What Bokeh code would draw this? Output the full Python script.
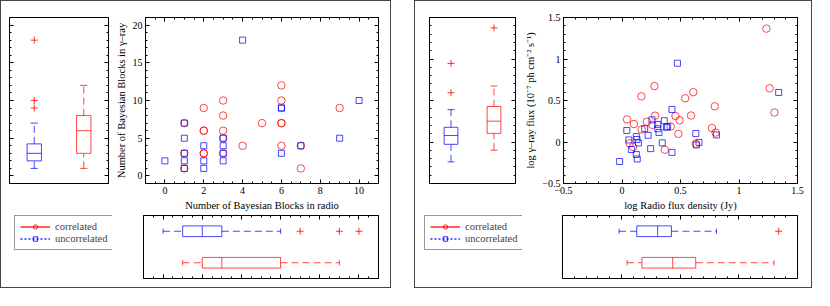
import numpy as np
from bokeh.plotting import figure
from bokeh.layouts import row, column
from bokeh.models import (Range1d, LinearAxis, FixedTicker, Spacer, ColumnDataSource,
                          Legend, LegendItem)
from bokeh.embed import file_html
from bokeh.resources import INLINE

# ---------------- data ----------------
# Panel 1: number of Bayesian blocks (radio vs gamma-ray)
bb_cor_radio = [1, 1, 1, 2, 2, 2, 2, 2, 3, 3, 3, 3, 3, 4, 5, 6, 6, 6, 6, 6, 7, 7, 9]
bb_cor_gamma = [1, 3, 7, 3, 3, 6, 6, 9, 3, 5, 6, 8, 10, 4, 7, 4, 7, 7, 10, 12, 1, 4, 9]
bb_unc_radio = [0, 1, 1, 1, 1, 1, 2, 2, 2, 3, 3, 3, 3, 4, 6, 6, 6, 7, 9, 10]
bb_unc_gamma = [2, 1, 2, 3, 5, 7, 1, 2, 4, 2, 3, 4, 5, 18, 3, 9, 9, 4, 5, 10]

# box-plot summaries: [lower whisker, q1, median, q3, upper whisker]
bb_gamma_box_unc = [1, 2, 3, 4.25, 7]
bb_gamma_out_unc = [9, 10, 18]
bb_gamma_box_cor = [1, 3, 6, 8, 12]
bb_gamma_out_cor = []
bb_radio_box_unc = [0, 1, 2, 3, 6]
bb_radio_out_unc = [7, 9, 10]
bb_radio_box_cor = [1, 2, 3, 6, 9]
bb_radio_out_cor = []

# Panel 2: log radio flux density vs log gamma-ray flux
fl_cor_radio = [1.234, 1.262, 1.303, 0.277, 0.166, 0.609, 0.540, 0.793, 0.590, 0.043,
                0.102, 0.283, 0.457, 0.492, 0.212, 0.259, 0.168, 0.416, 0.482, 0.769,
                0.800, 0.065, 0.094, 0.366, 0.630]
fl_cor_gamma = [1.366, 0.647, 0.355, 0.674, 0.550, 0.600, 0.527, 0.430, 0.319, 0.272,
                0.216, 0.317, 0.313, 0.262, 0.244, 0.206, 0.151, 0.187, 0.098, 0.168,
                0.113, -0.015, -0.060, -0.093, -0.022]
fl_unc_radio = [0.474, 1.339, 0.427, 0.256, 0.361, 0.306, 0.194, 0.306, 0.380, 0.390,
                0.316, 0.041, 0.223, 0.122, 0.128, 0.058, 0.140, 0.344, 0.631, 0.807,
                0.658, 0.636, 0.080, 0.245, 0.427, 0.122, 0.130, -0.020]
fl_unc_gamma = [0.949, 0.597, 0.392, 0.267, 0.256, 0.212, 0.160, 0.160, 0.178, 0.185,
                0.115, 0.139, 0.081, 0.065, 0.030, 0.025, -0.012, -0.010, 0.103, 0.085,
                -0.005, -0.035, -0.090, -0.080, -0.125, -0.150, -0.205, -0.235]

fl_gamma_box_unc = [-0.24, -0.028, 0.078, 0.177, 0.39]
fl_gamma_out_unc = [0.594, 0.947]
fl_gamma_box_cor = [-0.099, 0.104, 0.251, 0.428, 0.675]
fl_gamma_out_cor = [1.375]
fl_radio_box_unc = [-0.019, 0.132, 0.31, 0.427, 0.81]
fl_radio_out_unc = [1.34]
fl_radio_box_cor = [0.05, 0.176, 0.438, 0.634, 1.30]
fl_radio_out_cor = []

group_labels = ["correlated", "uncorrelated"]

bb_xticks = [0, 2, 4, 6, 8, 10]
bb_yticks = [0, 5, 10, 15, 20]
fl_ticks = [-0.5, 0, 0.5, 1, 1.5]
fl_tick_labels = ["\u22120.5", "0", "0.5", "1", "1.5"]

# ---------------- styling ----------------
SX, SY = 0.977, 0.94
def sx(v): return int(round(v * SX))
def sy(v): return int(round(v * SY))

FONT = "Liberation Serif"
RED, BLUE = "red", "blue"
ALPHA = 0.72
DASH = "7 4"


def make_fig(w, h, left, right, top, bottom, xr, yr):
    p = figure(width=sx(w), height=sy(h), x_range=Range1d(*xr), y_range=Range1d(*yr),
               output_backend="svg", toolbar_location=None,
               x_axis_location=None, y_axis_location=None,
               min_border_left=sx(left), min_border_right=sx(right),
               min_border_top=sy(top), min_border_bottom=sy(bottom))
    p.grid.visible = False
    p.outline_line_color = "black"
    p.outline_line_width = 1
    p.background_fill_color = "white"
    p.border_fill_color = "white"
    return p


def add_axis(p, place, ticks, minor, labels=False, title=None, overrides=None):
    ax = LinearAxis(ticker=FixedTicker(ticks=ticks, minor_ticks=minor))
    ax.axis_line_color = "black"
    ax.major_tick_in, ax.major_tick_out = 4, 0
    ax.minor_tick_in, ax.minor_tick_out = 2, 0
    ax.major_tick_line_color = "black"
    ax.minor_tick_line_color = "black"
    if labels:
        ax.major_label_text_font = FONT
        ax.major_label_text_font_size = "10px"
        ax.major_label_text_color = "black"
        ax.major_label_standoff = 3
        if overrides:
            ax.major_label_overrides = overrides
    else:
        ax.major_label_text_font_size = "0px"
        ax.major_label_text_alpha = 0
        ax.major_label_standoff = 0
    if title:
        ax.axis_label = title
        ax.axis_label_text_font = FONT
        ax.axis_label_text_font_style = "normal"
        ax.axis_label_text_font_size = "10.5px"
        ax.axis_label_text_color = "black"
        ax.axis_label_standoff = 3
    p.add_layout(ax, place)
    return ax


def draw_boxes(p, orient, pos, stats, outs, width, colors):
    half, cap = width / 2.0, width / 4.0
    src = ColumnDataSource(dict(
        pos=pos,
        lw=[s[0] for s in stats], q1=[s[1] for s in stats], med=[s[2] for s in stats],
        q3=[s[3] for s in stats], uw=[s[4] for s in stats],
        lo=[c - half for c in pos], hi=[c + half for c in pos],
        clo=[c - cap for c in pos], chi=[c + cap for c in pos],
        color=colors))
    kw = dict(source=src, line_color="color", line_width=1, line_alpha=ALPHA)
    opos, oval = [], []
    for c, o in zip(pos, outs):
        opos += [c] * len(o)
        oval += list(o)
    osrc = ColumnDataSource(dict(pos=opos, val=oval))
    if orient == "v":
        p.segment(x0="pos", y0="q3", x1="pos", y1="uw", line_dash=DASH, **kw)
        p.segment(x0="pos", y0="lw", x1="pos", y1="q1", line_dash=DASH, **kw)
        p.segment(x0="clo", y0="uw", x1="chi", y1="uw", **kw)
        p.segment(x0="clo", y0="lw", x1="chi", y1="lw", **kw)
        p.vbar(x="pos", width=width, bottom="q1", top="q3", fill_color=None, **kw)
        p.segment(x0="lo", y0="med", x1="hi", y1="med", **kw)
        p.scatter(x="pos", y="val", source=osrc, marker="cross", size=7,
                  line_color=RED, line_alpha=0.8, line_width=1)
    else:
        p.segment(x0="q3", y0="pos", x1="uw", y1="pos", line_dash=DASH, **kw)
        p.segment(x0="lw", y0="pos", x1="q1", y1="pos", line_dash=DASH, **kw)
        p.segment(x0="uw", y0="clo", x1="uw", y1="chi", **kw)
        p.segment(x0="lw", y0="clo", x1="lw", y1="chi", **kw)
        p.hbar(y="pos", height=width, left="q1", right="q3", fill_color=None, **kw)
        p.segment(x0="med", y0="lo", x1="med", y1="hi", **kw)
        p.scatter(x="val", y="pos", source=osrc, marker="cross", size=7,
                  line_color=RED, line_alpha=0.8, line_width=1)


def draw_scatter(p, cx, cy, ux, uy):
    p.scatter(cx, cy, marker="circle", size=7.5, fill_color=None,
              line_color=RED, line_alpha=ALPHA, line_width=1)
    p.scatter(ux, uy, marker="square", size=6, fill_color=None,
              line_color=BLUE, line_alpha=ALPHA, line_width=1)


def legend_fig(w, h, left):
    p = figure(width=sx(w), height=sy(h), x_range=Range1d(0, 1), y_range=Range1d(0, 1),
               output_backend="svg", toolbar_location=None,
               x_axis_location=None, y_axis_location=None,
               min_border_left=sx(left), min_border_right=0,
               min_border_top=0, min_border_bottom=0)
    p.grid.visible = False
    p.outline_line_color = None
    p.border_fill_color = "white"
    # legend-only renderers: a single undefined (NaN) point so nothing is plotted
    dummy = ColumnDataSource(dict(x=[float("nan")], y=[float("nan")]))
    l1 = p.line("x", "y", source=dummy, line_color=RED, line_width=1.5, line_alpha=0.85)
    m1 = p.scatter("x", "y", source=dummy, marker="circle", size=7.5, fill_color=None,
                   line_color=RED, line_alpha=0.85, line_width=1)
    l2 = p.line("x", "y", source=dummy, line_color=BLUE, line_width=1.5, line_dash="2 2",
                line_alpha=0.85)
    m2 = p.scatter("x", "y", source=dummy, marker="square", size=6, fill_color=None,
                   line_color=BLUE, line_alpha=0.85, line_width=1)
    leg = Legend(items=[LegendItem(label=group_labels[0], renderers=[l1, m1]),
                        LegendItem(label=group_labels[1], renderers=[l2, m2])],
                 location="top_left", margin=0, padding=5, spacing=1,
                 glyph_width=30, glyph_height=11, label_height=11, label_standoff=5,
                 label_text_font=FONT, label_text_font_size="10.5px",
                 border_line_color="#333333", border_line_width=1.5,
                 background_fill_color="white", background_fill_alpha=1)
    p.add_layout(leg)
    return p


def panel(vb_w, vb_l, vb_r, sc_w, sc_l, sc_r, yr, xr, xt, xminor, yt, yminor,
          xlabel, ylabel, xover, yover, cx, cy, ux, uy,
          ybox, yout, xbox, xout, vwidth, hwidth, leg_left):
    TOP, FH, BOT = 17, 181, 28
    H1 = TOP + FH + BOT
    H2 = 79
    # vertical box plot (gamma-ray)
    vb = make_fig(vb_w, H1, vb_l, vb_r, TOP, BOT, (0.5, 2.5), yr)
    add_axis(vb, "left", yt, yminor)
    add_axis(vb, "right", yt, yminor)
    draw_boxes(vb, "v", [1, 2], [ybox[1], ybox[0]], [yout[1], yout[0]], vwidth, [BLUE, RED])
    # scatter
    sc = make_fig(sc_w, H1, sc_l, sc_r, TOP, BOT, xr, yr)
    add_axis(sc, "below", xt, xminor, labels=True, title=xlabel, overrides=xover)
    add_axis(sc, "left", yt, yminor, labels=True, title=ylabel, overrides=yover)
    add_axis(sc, "above", xt, xminor)
    add_axis(sc, "right", yt, yminor)
    draw_scatter(sc, cx, cy, ux, uy)
    # legend
    lg = legend_fig(vb_w, H2, leg_left)
    # horizontal box plot (radio)
    hb = make_fig(sc_w, H2, sc_l, sc_r, 2, 10, xr, (0.5, 2.5))
    add_axis(hb, "below", xt, xminor)
    add_axis(hb, "above", xt, xminor)
    draw_boxes(hb, "h", [2, 1], [xbox[1], xbox[0]], [xout[1], xout[0]], hwidth, [BLUE, RED])
    return column(row(vb, sc), row(lg, hb),
                  styles={"border": "1px solid #444444", "background-color": "white"})


bb_xminor = list(np.arange(-1, 11.01, 0.5))
bb_yminor = list(np.arange(-1, 21.01, 1.0))
fl_minor = [round(v, 2) for v in np.arange(-0.5, 1.501, 0.1)]
fl_over = {t: s for t, s in zip(fl_ticks, fl_tick_labels)}

left_panel = panel(114, 8, 4, 285, 32, 12, (-1, 21), (-1, 11),
                   bb_xticks, bb_xminor, bb_yticks, bb_yminor,
                   "Number of Bayesian Blocks in radio",
                   "Number of Bayesian Blocks in \u03b3\u2013ray", None, None,
                   bb_cor_radio, bb_cor_gamma, bb_unc_radio, bb_unc_gamma,
                   [bb_gamma_box_cor, bb_gamma_box_unc], [bb_gamma_out_cor, bb_gamma_out_unc],
                   [bb_radio_box_cor, bb_radio_box_unc], [bb_radio_out_cor, bb_radio_out_unc],
                   0.29, 0.34, 13)

right_panel = panel(110, 14, 7, 296, 41, 14, (-0.5, 1.5), (-0.5, 1.5),
                    fl_ticks, fl_minor, fl_ticks, fl_minor,
                    "log Radio flux density (Jy)",
                    "log \u03b3\u2013ray flux (10\u207b\u2077 ph cm\u207b\u00b2 s\u207b\u00b9)",
                    fl_over, fl_over,
                    fl_cor_radio, fl_cor_gamma, fl_unc_radio, fl_unc_gamma,
                    [fl_gamma_box_cor, fl_gamma_box_unc], [fl_gamma_out_cor, fl_gamma_out_unc],
                    [fl_radio_box_cor, fl_radio_box_unc], [fl_radio_out_cor, fl_radio_out_unc],
                    0.32, 0.34, 9)

page = row(left_panel, Spacer(width=sx(24), height=10), right_panel)

open("out.html", "w").write(file_html(page, INLINE))
